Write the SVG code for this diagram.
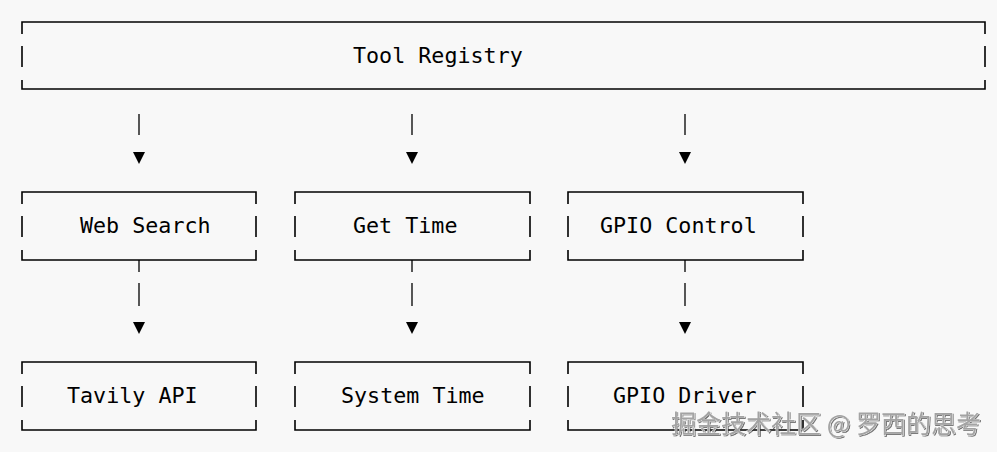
<svg xmlns="http://www.w3.org/2000/svg" width="997" height="452" viewBox="0 0 997 452">
  <defs>
    <style>
      .box { fill: none; stroke: #000; stroke-width: 1.6; stroke-linecap: butt; }
      .conn { fill: none; stroke: #000; stroke-width: 1.3; }
      .head { fill: #000; }
      .lbl { font-family: "DejaVu Sans Mono", "Liberation Mono", monospace; font-size: 21.7px; fill: #000; }
      .wm { font-family: "Noto Sans CJK SC", "Noto Sans", sans-serif; font-size: 25px; fill: #a3a3a3; stroke: #ffffff; stroke-width: 0.6; paint-order: stroke; }
    </style>
    <filter id="shadow" x="-5%" y="-20%" width="110%" height="140%">
      <feDropShadow dx="1" dy="1" stdDeviation="0.6" flood-color="#333" flood-opacity="0.7"/>
    </filter>
  </defs>
  <rect width="997" height="452" fill="#f8f8f8"/>

  <g id="tool-registry">
    <path class="box" d="M22,34 V22 H985 V34 M22,46 V67 M985,46 V67 M22,80 V89 H985 V80"/>
    <text class="lbl" x="353" y="63">Tool Registry</text>
  </g>

  <g id="web-search">
    <path class="box" d="M22,204 V192 H256 V204 M22,216 V237 M256,216 V237 M22,250 V260 H256 V250"/>
    <text class="lbl" x="80" y="233">Web Search</text>
  </g>
  <g id="get-time">
    <path class="box" d="M295,204 V192 H530 V204 M295,216 V237 M530,216 V237 M295,250 V260 H530 V250"/>
    <text class="lbl" x="353" y="233">Get Time</text>
  </g>
  <g id="gpio-control">
    <path class="box" d="M568,204 V192 H803 V204 M568,216 V237 M803,216 V237 M568,250 V260 H803 V250"/>
    <text class="lbl" x="600" y="233">GPIO Control</text>
  </g>

  <g id="tavily-api">
    <path class="box" d="M22,374 V362 H256 V374 M22,386 V407 M256,386 V407 M22,420 V430 H256 V420"/>
    <text class="lbl" x="67" y="403">Tavily API</text>
  </g>
  <g id="system-time">
    <path class="box" d="M295,374 V362 H530 V374 M295,386 V407 M530,386 V407 M295,420 V430 H530 V420"/>
    <text class="lbl" x="341" y="403">System Time</text>
  </g>
  <g id="gpio-driver">
    <path class="box" d="M568,374 V362 H803 V374 M568,386 V407 M803,386 V407 M568,420 V430 H803 V420"/>
    <text class="lbl" x="613" y="403">GPIO Driver</text>
  </g>

  <g id="connectors">
    <path class="conn" d="M139,114 V135 M412,114 V135 M685,114 V135"/>
    <polygon class="head" points="133,152 145,152 139,164"/>
    <polygon class="head" points="406,152 418,152 412,164"/>
    <polygon class="head" points="679,152 691,152 685,164"/>
    <path class="conn" d="M139,260 V272 M139,283 V306 M412,260 V272 M412,283 V306 M685,260 V272 M685,283 V306"/>
    <polygon class="head" points="133,322 145,322 139,334"/>
    <polygon class="head" points="406,322 418,322 412,334"/>
    <polygon class="head" points="679,322 691,322 685,334"/>
  </g>

  <text class="wm" x="671" y="433" textLength="310" lengthAdjust="spacingAndGlyphs" filter="url(#shadow)">掘金技术社区 @ 罗西的思考</text>
</svg>
